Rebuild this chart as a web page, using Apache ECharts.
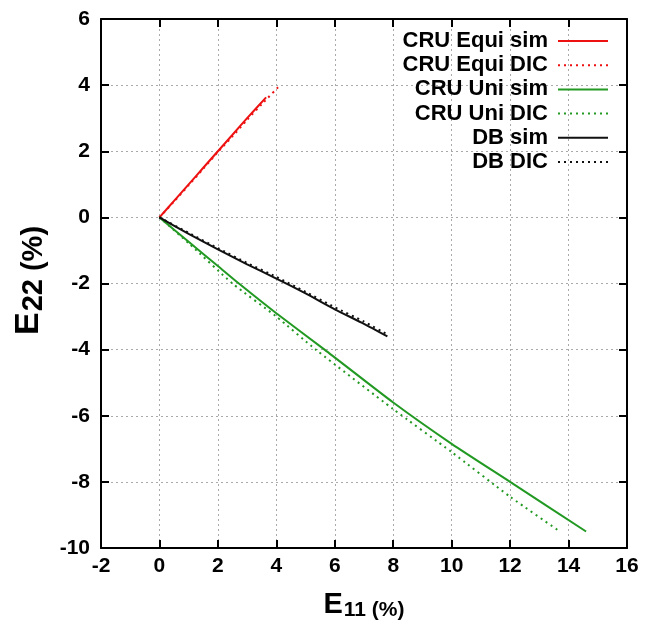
<!DOCTYPE html>
<html>
<head>
<meta charset="utf-8">
<script src="https://cdn.jsdelivr.net/npm/echarts@6/dist/echarts.min.js"></script>
<style>html,body{margin:0;padding:0;background:#fff}#c{width:657px;height:627px}</style>
</head>
<body>
<div id="c"></div>
<script>
var seriesNames = ['CRU Equi sim', 'CRU Equi DIC', 'CRU Uni sim', 'CRU Uni DIC', 'DB sim', 'DB DIC'];
var equiSim = [[0,0],[0.5,0.5],[1,1],[1.5,1.5],[2,2],[2.5,2.5],[3,3],[3.65,3.63]];
var equiDic = [[0,0],[0.5,0.48],[1,0.97],[1.5,1.47],[2,1.98],[2.5,2.45],[3,2.95],[3.5,3.42],[4.13,4.0]];
var uniSim = [[0,0],[1,-0.74],[2,-1.47],[2.72,-2.0],[4,-2.9],[5.65,-4],[8,-5.6],[10,-6.85],[12,-8],[14.6,-9.5]];
var uniDic = [[0,0],[1,-0.78],[2.5,-2],[4,-3.0],[5.35,-4],[8,-5.8],[10,-7.1],[12,-8.45],[13.7,-9.5]];
var dbSim = [[0,0],[1,-0.5],[2,-0.97],[3,-1.42],[4,-1.85],[5,-2.3],[6,-2.78],[7,-3.22],[7.8,-3.6]];
var dbDic = [[0,0],[1,-0.47],[2,-0.93],[3,-1.38],[4,-1.8],[5,-2.25],[6,-2.72],[7,-3.15],[7.75,-3.52]];
var xTicks = [-2,0,2,4,6,8,10,12,14,16];
var yTicks = [-10,-8,-6,-4,-2,0,2,4,6];

var colors = ['#ee1111','#ee1111','#229922','#229922','#111111','#111111'];
var datas = [equiSim, equiDic, uniSim, uniDic, dbSim, dbDic];
var dotted = [false,true,false,true,false,true];

var chart = echarts.init(document.getElementById('c'));
var font = 'Liberation Sans, Arial, sans-serif';
function axisBase(pos, show) {
  return {
    type: 'value', position: pos, nameMoveOverlap: false,
    axisLine: {show: true, onZero: false, lineStyle: {color: '#000', width: 2}},
    axisTick: {show: true, inside: true, length: 8, lineStyle: {color: '#000', width: 2}},
    axisLabel: {show: show, color: '#000', fontWeight: 'bold', fontSize: 21, fontFamily: font},
    splitLine: {show: show, lineStyle: {color: '#aaa', type: [2,3], width: 1}}
  };
}
var xa = axisBase('bottom', true);
xa.min = xTicks[0]; xa.max = xTicks[xTicks.length-1]; xa.interval = 2;
xa.axisLabel.margin = 8;
xa.name = '{a|E}{b|11 (%)}'; xa.nameLocation = 'middle'; xa.nameGap = 40;
xa.nameTextStyle = {rich: {a: {fontSize: 29, fontWeight: 'bold', fontFamily: font, color:'#000', lineHeight: 34}, b: {fontSize: 21, fontWeight: 'bold', fontFamily: font, color:'#000', lineHeight: 34, padding:[11,0,0,1]}}};
var xb = axisBase('top', false);
xb.min = xa.min; xb.max = xa.max; xb.interval = 2;
var ya = axisBase('left', true);
ya.min = yTicks[0]; ya.max = yTicks[yTicks.length-1]; ya.interval = 2;
ya.axisLabel.margin = 11;
ya.name = '{a|E}{b|22 (%)}'; ya.nameLocation = 'middle'; ya.nameGap = 54; ya.nameRotate = 90;
ya.nameTextStyle = {padding: [0, 0, 0, 6], rich: {a: {fontSize: 34, fontWeight: 'bold', fontFamily: font, color:'#000', lineHeight: 36}, b: {fontSize: 29, fontWeight: 'bold', fontFamily: font, color:'#000', lineHeight: 36, padding:[10,0,0,1]}}};
var yb = axisBase('right', false);
yb.min = ya.min; yb.max = ya.max; yb.interval = 2;

var series = seriesNames.map(function(n, i){
  return {
    name: n, type: 'line', data: datas[i], symbol: 'none', smooth: 0.2,
    xAxisIndex: 0, yAxisIndex: 0,
    lineStyle: {color: colors[i], width: 2, type: dotted[i] ? [2,4] : 'solid'},
    itemStyle: {color: colors[i]}, z: 3
  };
});

chart.setOption({
  animation: false,
  backgroundColor: '#fff',
  grid: {left: 101, right: 30, top: 19, bottom: 79, containLabel: false, outerBoundsMode: 'none'},
  xAxis: [xa, xb],
  yAxis: [ya, yb],
  legend: {
    orient: 'vertical', right: 48, top: 30, align: 'right', padding: 0,
    itemWidth: 50, itemHeight: 14, itemGap: 2.2,
    data: seriesNames,
    itemStyle: {color: 'rgba(0,0,0,0)', borderWidth: 0, opacity: 0},
    textStyle: {color: '#000', fontWeight: 'bold', fontSize: 22, fontFamily: font, lineHeight: 22, padding: [0, 5, 0, 0]}
  },
  series: series
});
</script>
</body>
</html>
